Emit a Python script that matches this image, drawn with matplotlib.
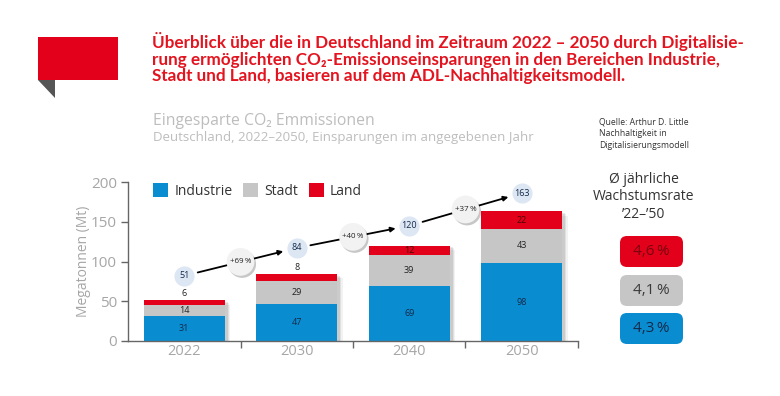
import matplotlib
matplotlib.use("Agg")
import matplotlib.pyplot as plt
import matplotlib.patheffects as pe
from matplotlib.patches import FancyBboxPatch, Rectangle, Polygon
import numpy as np

# ---------------- data ----------------
years = ["2022", "2030", "2040", "2050"]
industrie = [31, 47, 69, 98]
stadt = [14, 29, 39, 43]
land = [6, 8, 12, 22]
growth_labels = ["+69\u2009%", "+40\u2009%", "+37\u2009%"]
series_names = ["Industrie", "Stadt", "Land"]
rate_labels = ["4,6\u2009%", "4,1\u2009%", "4,3\u2009%"]
yticks = [0, 50, 100, 150, 200]
title_lines = [
    "\u00dcberblick \u00fcber die in Deutschland im Zeitraum 2022 \u2013 2050 durch Digitalisie-",
    "rung erm\u00f6glichten CO\u2082-Emissionseinsparungen in den Bereichen Industrie,",
    "Stadt und Land, basieren auf dem ADL-Nachhaltigkeitsmodell.",
]

# ---------------- style ----------------
BLUE = "#0a8dd0"
GREY = "#c6c6c6"
RED = "#e2001a"
TITLE_RED = "#e3141f"
NAVY = "#14294a"
TXT_GREY = "#a6a6a6"
FONT = ["Open Sans", "DejaVu Sans"]
TITLE_FONT = ["Lato", "Open Sans", "DejaVu Sans"]
circle_lift = [31, 33, 25, 23]   # data-unit lift of total bubbles above bars

plt.rcParams["font.family"] = FONT

fig = plt.figure(figsize=(7.8, 3.96), dpi=100)
fig.patch.set_facecolor("white")

# overlay axes in pixel units
ov = fig.add_axes([0, 0, 1, 1], zorder=0)
ov.set_xlim(0, 780)
ov.set_ylim(396, 0)
ov.axis("off")

# decorative speech-bubble
ov.add_patch(Rectangle((38, 37), 80, 43, color=RED, lw=0))
ov.add_patch(Polygon([(38, 80), (55, 80), (55, 98)], closed=True, color="#555555", lw=0))

# title, fitted so that the first line spans ~590 px
renderer = fig.canvas.get_renderer()
t_objs = []
for line, yb in zip(title_lines, [48, 65, 81]):
    t = ov.text(152, yb, line, color=TITLE_RED, fontsize=11, fontweight="bold",
                family=TITLE_FONT, va="baseline", ha="left")
    t_objs.append(t)
w0 = t_objs[0].get_window_extent(renderer).width
fs = 11 * 591 / w0
for t in t_objs:
    t.set_fontsize(fs)

ov.text(153, 121, "Eingesparte CO\u2082 Emmissionen", color="#bdbdbd", fontsize=11.3,
        va="center", ha="left")
ov.text(153, 138, "Deutschland, 2022\u20132050, Einsparungen im angegebenen Jahr",
        color="#bdbdbd", fontsize=9.5, va="center", ha="left")

ov.text(599, 117, "Quelle: Arthur D. Little\nNachhaltigkeit in\nDigitalisierungsmodell",
        color="#333333", fontsize=6.2, va="top", ha="left", linespacing=1.45)

# right panel
ov.text(644, 197, "\u00d8 j\u00e4hrliche\nWachstumsrate\n\u201922\u2013\u201950", color="#333333",
        fontsize=10, va="center", ha="center", linespacing=1.2)
box_colors = [RED, GREY, BLUE]
box_text_colors = ["#7a0010", "#3a3a3a", NAVY]
box_tops = [236, 275, 313]
for lab, bc, tc, top in zip(rate_labels, box_colors, box_text_colors, box_tops):
    ov.add_patch(FancyBboxPatch((620 + 7, top + 7), 63 - 14, 31 - 14,
                                boxstyle="round,pad=7", fc=bc, ec="none"))
    ov.text(651.5, top + 15.5, lab, color=tc, fontsize=11, ha="center", va="center")

# ---------------- main chart ----------------
ax = fig.add_axes([128 / 780, 1 - 341 / 396, 450 / 780, 159 / 396], zorder=2)
ax.patch.set_alpha(0)
x = np.arange(len(years))
w = 0.72
ind = np.array(industrie)
sta = np.array(stadt)
lan = np.array(land)
totals = ind + sta + lan

# shadow
shadow = ax.bar(x, totals, width=w, color="white", zorder=1)
for b in shadow:
    b.set_path_effects([
        pe.SimplePatchShadow(offset=(4, -3), shadow_rgbFace="#000000", alpha=0.05),
        pe.SimplePatchShadow(offset=(3, -2), shadow_rgbFace="#000000", alpha=0.07),
        pe.SimplePatchShadow(offset=(2, -1), shadow_rgbFace="#000000", alpha=0.09),
        pe.Normal()])

b1 = ax.bar(x, ind, width=w, color=BLUE, label=series_names[0], zorder=2)
b2 = ax.bar(x, sta, width=w, bottom=ind, color=GREY, label=series_names[1], zorder=2)
b3 = ax.bar(x, lan, width=w, bottom=ind + sta, color=RED, label=series_names[2], zorder=2)

for i in range(len(years)):
    ax.text(x[i], ind[i] / 2, str(ind[i]), ha="center", va="center", fontsize=6.5, color=NAVY, zorder=3)
    ax.text(x[i], ind[i] + sta[i] / 2, str(sta[i]), ha="center", va="center", fontsize=6.5, color="#222222", zorder=3)
    if lan[i] < 10:
        ax.annotate(str(lan[i]), (x[i], totals[i]), xytext=(0, 1.5), textcoords="offset points",
                    ha="center", va="bottom", fontsize=6.5, color="#222222", zorder=3)
    else:
        ax.text(x[i], ind[i] + sta[i] + lan[i] / 2, str(lan[i]), ha="center", va="center",
                fontsize=6.5, color="#4a0008", zorder=3)

# total bubbles
cy = totals + np.array(circle_lift)
for i in range(len(years)):
    ax.plot(x[i], cy[i], marker="o", ms=14.5, mfc="#dde6f3", mec="none", zorder=4, clip_on=False)
    ax.text(x[i], cy[i], str(totals[i]), ha="center", va="center", fontsize=6.5, color=NAVY, zorder=5)

# growth arrows and bubbles
for i in range(len(years) - 1):
    ax.annotate("", xy=(x[i + 1], cy[i + 1]), xytext=(x[i], cy[i]),
                arrowprops=dict(arrowstyle="-|>", color="black", lw=1.3,
                                shrinkA=10, shrinkB=10, mutation_scale=7),
                zorder=4)
    mx = (x[i] + x[i + 1]) / 2
    my = (cy[i] + cy[i + 1]) / 2
    ax.plot(mx, my, marker="o", ms=20, mfc="#f2f2f2", mec="none", zorder=6, clip_on=False,
            path_effects=[pe.SimplePatchShadow(offset=(1.2, -1.5), shadow_rgbFace="#000000", alpha=0.22),
                          pe.Normal()])
    ax.text(mx, my, growth_labels[i], ha="center", va="center", fontsize=5.8, color="#222222", zorder=7)

ax.set_xlim(-0.5, len(years) - 0.5)
ax.set_ylim(0, 200)
ax.set_yticks(yticks)
ax.set_xticks(x)
ax.set_xticklabels(years)
ax.set_xticks(list(x + 0.5), minor=True)
ax.tick_params(axis="x", which="major", length=0, labelsize=10.5, labelcolor=TXT_GREY, pad=2)
ax.tick_params(axis="x", which="minor", length=5, width=1, color="#666666", direction="out")
ax.tick_params(axis="y", length=5, width=1, color="#666666", labelsize=11, labelcolor=TXT_GREY, pad=3)
for s in ["top", "right"]:
    ax.spines[s].set_visible(False)
for s in ["left", "bottom"]:
    ax.spines[s].set_color("#666666")
    ax.spines[s].set_linewidth(1)
ax.set_ylabel("Megatonnen (Mt)", color=TXT_GREY, fontsize=10, labelpad=0)

ax.legend(handles=[b1, b2, b3], loc="upper left", bbox_to_anchor=(0.027, 1.07), ncol=3,
          frameon=False, fontsize=10, handlelength=1.1, handleheight=1.1,
          handletextpad=0.45, columnspacing=0.75, labelcolor="#333333")

fig.savefig("out.png", dpi=100, facecolor="white")
